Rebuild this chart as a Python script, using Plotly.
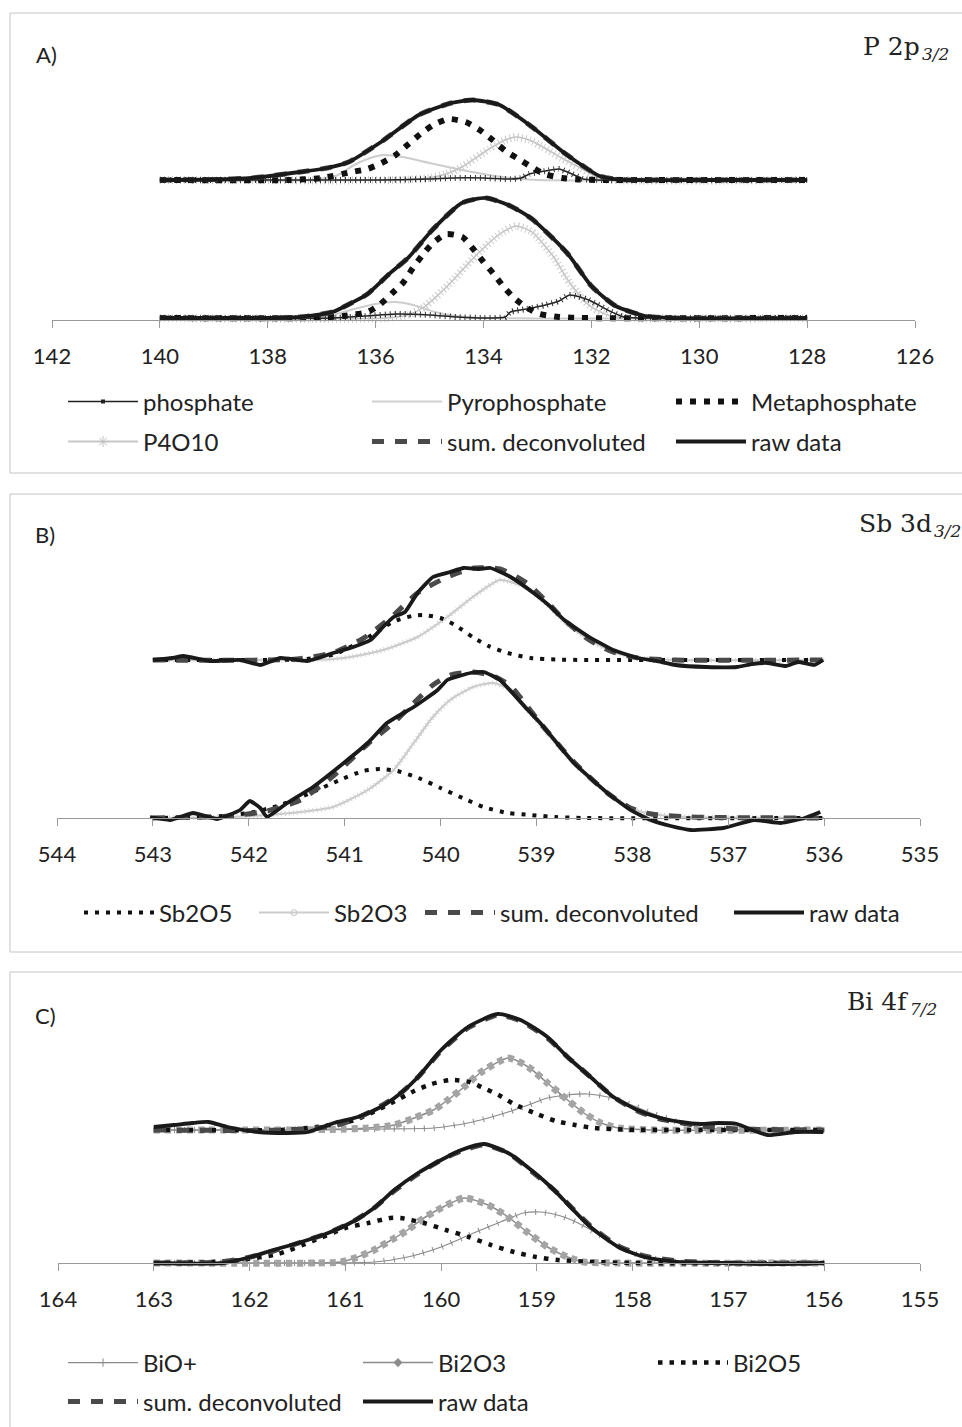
import plotly.graph_objects as go

W, H = 962, 1427

# ---------------- Panel A : P 2p3/2 (binding energy, intensity a.u.) -------------
a_ticks = [142, 140, 138, 136, 134, 132, 130, 128, 126]

a_raw_top_e = [140.0, 139.0, 138.3, 137.4, 136.9, 136.5, 135.9, 135.2, 134.6, 134.2, 133.7, 133.1, 132.5, 132.1, 131.85, 131.5, 130.0, 128.0]
a_raw_top_i = [140, 140.5, 142, 148, 152, 158, 178, 205, 217, 220, 215, 193, 167, 152, 144, 140.5, 140, 140]
a_raw_bot_e = [140.0, 138.0, 137.4, 136.8, 136.45, 136.15, 135.75, 135.4, 134.95, 134.4, 133.95, 133.5, 133.1, 132.45, 132.0, 131.55, 131.0, 130.5, 128.0]
a_raw_bot_i = [2, 2, 3, 8, 17, 26, 46, 62, 90, 117, 122, 114, 101, 67, 34, 14, 4, 2, 2]

a_phos_top_e = [140.0, 136.0, 135.0, 134.6, 134.0, 133.5, 133.3, 133.15, 132.85, 132.6, 132.4, 132.15, 131.9, 128.0]
a_phos_top_i = [140, 140, 141, 142, 142, 141, 142, 146, 149, 151, 147, 141, 140, 140]
a_phos_bot_e = [140.0, 136.8, 136.2, 135.6, 135.0, 134.5, 134.0, 133.6, 133.5, 133.2, 132.85, 132.6, 132.4, 132.05, 131.7, 131.4, 131.1, 128.0]
a_phos_bot_i = [2, 2, 4, 6, 5, 3, 2, 3, 8, 11, 15, 19, 25, 20, 10, 3, 2, 2]

a_pyro_top_e = [140.0, 137.2, 136.7, 136.4, 136.1, 135.85, 135.5, 135.0, 134.4, 133.9, 133.5, 133.0, 128.0]
a_pyro_top_i = [140, 140, 145, 155, 162, 165, 163, 157, 150, 145, 142, 140, 140]
a_pyro_bot_e = [140.0, 137.2, 136.8, 136.4, 136.0, 135.65, 135.3, 134.9, 134.5, 134.0, 128.0]
a_pyro_bot_i = [2, 2, 5, 11, 16, 18, 15, 8, 4, 2, 2]

a_meta_top_e = [140.0, 137.6, 137.0, 136.44, 136.15, 135.89, 135.63, 135.41, 135.17, 134.93, 134.65, 134.33, 134.07, 133.83, 133.59, 133.35, 133.11, 132.87, 132.54, 132.25, 131.8, 128.0]
a_meta_top_i = [140, 140, 142, 148, 151, 157, 165, 175, 186, 195, 201, 198, 190, 180, 169, 161, 153, 146, 142, 140.5, 140, 140]
a_meta_bot_e = [140.0, 137.2, 136.6, 136.15, 135.93, 135.69, 135.48, 135.31, 135.13, 134.94, 134.69, 134.39, 134.19, 134.0, 133.81, 133.61, 133.41, 133.19, 132.96, 132.6, 132.2, 128.0]
a_meta_bot_i = [2, 2, 4, 8, 15, 27, 38, 52, 65, 77, 86, 83, 71, 58, 46, 32, 21, 12, 6, 3, 2, 2]

a_p4o10_top_e = [140.0, 135.6, 135.0, 134.7, 134.4, 133.9, 133.6, 133.4, 133.15, 132.9, 132.55, 132.2, 131.9, 131.6, 128.0]
a_p4o10_top_i = [140, 140, 142, 146, 153, 171, 180, 183, 180, 173, 162, 152, 143, 140, 140]
a_p4o10_bot_e = [140.0, 135.8, 135.4, 135.1, 134.65, 134.15, 133.7, 133.4, 133.1, 132.7, 132.4, 132.05, 131.7, 131.3, 128.0]
a_p4o10_bot_i = [2, 2, 5, 13, 35, 64, 86, 94, 88, 63, 37, 15, 5, 2, 2]

# ---------------- Panel B : Sb 3d3/2 -------------
b_ticks = [544, 543, 542, 541, 540, 539, 538, 537, 536, 535]

b_raw_top_e = [543.0, 542.8, 542.68, 542.4, 542.09, 541.88, 541.67, 541.39, 541.12, 540.91, 540.73, 540.6, 540.49, 540.37, 540.24, 540.08, 539.9, 539.76, 539.6, 539.48, 539.27, 539.03, 538.85, 538.71, 538.45, 538.2, 537.94, 537.75, 537.55, 537.23, 536.91, 536.75, 536.59, 536.4, 536.27, 536.1, 536.01]
b_raw_top_i = [158, 160, 162, 157, 158, 153, 160, 157, 165, 171, 178, 191, 201, 206, 225, 241, 246, 250, 249, 250, 241, 225, 211, 198, 181, 168, 160, 157, 153, 151, 151, 154, 155, 152, 156, 153, 158]
b_raw_bot_e = [543.03, 542.82, 542.58, 542.33, 542.09, 541.99, 541.88, 541.81, 541.6, 541.33, 541.01, 540.76, 540.56, 540.28, 540.03, 539.93, 539.69, 539.55, 539.38, 539.09, 538.96, 538.61, 538.26, 538.02, 537.81, 537.6, 537.39, 537.05, 536.73, 536.45, 536.2, 536.04]
b_raw_bot_i = [1, -2, 5, -1, 8, 17, 10, 1, 15, 31, 55, 75, 95, 111, 128, 138, 145, 146, 138, 108, 95, 55, 25, 8, -2, -8, -12, -10, -2, -5, 0, 6]

b_sum_top_e = [543.0, 541.5, 541.1, 540.8, 540.5, 540.24, 539.93, 539.65, 539.38, 539.1, 538.85, 538.71, 538.45, 538.2, 537.94, 537.55, 536.0]
b_sum_top_i = [158, 159, 166, 180, 202, 225, 241, 250, 249, 235, 212, 198, 178, 166, 160, 158, 158]
b_sum_bot_e = [543.0, 542.2, 541.81, 541.46, 541.12, 540.76, 540.49, 540.28, 540.08, 539.9, 539.66, 539.45, 539.27, 539.09, 538.96, 538.61, 538.26, 538.02, 537.8, 537.4, 536.0]
b_sum_bot_i = [0, 2, 7, 18, 42, 74, 95, 115, 133, 143, 146, 142, 132, 111, 95, 56, 25, 10, 4, 1, 0]

b_sb2o5_top_e = [543.0, 541.8, 541.4, 541.1, 540.8, 540.5, 540.3, 540.18, 540.0, 539.85, 539.65, 539.5, 539.3, 539.06, 538.8, 538.5, 536.0]
b_sb2o5_top_i = [158, 158, 159, 164, 178, 196, 202, 203, 200, 193, 180, 172, 165, 160, 158.5, 158, 158]
b_sb2o5_bot_e = [543.0, 542.4, 542.0, 541.7, 541.38, 541.05, 540.81, 540.63, 540.45, 540.23, 540.0, 539.77, 539.55, 539.3, 539.06, 538.8, 538.5, 536.0]
b_sb2o5_bot_i = [0, 1, 5, 12, 24, 38, 47, 49, 47, 40, 30, 20, 11, 5, 3, 1, 0, 0]

b_sb2o3_top_e = [543.0, 541.5, 541.12, 540.94, 540.6, 540.24, 539.93, 539.65, 539.38, 539.1, 538.85, 538.71, 538.45, 538.2, 537.94, 537.55, 536.0]
b_sb2o3_top_i = [158, 158, 159, 161, 168, 181, 201, 222, 238, 230, 210, 196, 178, 166, 160, 158, 158]
b_sb2o3_bot_e = [543.0, 542.2, 541.81, 541.46, 541.12, 540.76, 540.49, 540.28, 540.08, 539.9, 539.66, 539.45, 539.27, 539.09, 538.96, 538.61, 538.26, 538.02, 537.8, 537.4, 536.0]
b_sb2o3_bot_i = [0, 1, 3, 6, 11, 28, 48, 75, 101, 118, 131, 135, 128, 108, 93, 55, 25, 10, 4, 1, 0]

# ---------------- Panel C : Bi 4f7/2 -------------
c_ticks = [164, 163, 162, 161, 160, 159, 158, 157, 156, 155]

c_raw_top_e = [163.0, 162.79, 162.6, 162.43, 162.23, 161.91, 161.6, 161.39, 161.12, 160.87, 160.63, 160.42, 160.24, 160.0, 159.72, 159.41, 159.17, 158.89, 158.68, 158.44, 158.2, 157.95, 157.71, 157.5, 157.29, 157.1, 156.91, 156.75, 156.59, 156.3, 156.01]
c_raw_top_i = [136, 138, 140, 141, 136, 131, 130, 131, 140, 146, 156, 170, 186, 213, 236, 249, 243, 226, 206, 186, 166, 153, 145, 141, 139, 140, 139, 133, 128, 131, 131]
c_raw_bot_e = [163.0, 162.27, 161.99, 161.75, 161.46, 161.18, 160.91, 160.7, 160.49, 160.24, 160.0, 159.79, 159.55, 159.3, 159.06, 158.82, 158.72, 158.44, 158.15, 157.88, 157.53, 157.0, 156.5, 156.0]
c_raw_bot_i = [0, 0, 6, 13, 21, 30, 42, 55, 73, 90, 103, 113, 119, 110, 93, 73, 63, 36, 16, 6, 1, 0, -1, 0]

c_sum_top_e = [163.0, 161.6, 161.12, 160.87, 160.63, 160.42, 160.24, 160.0, 159.72, 159.41, 159.17, 158.89, 158.68, 158.44, 158.2, 157.95, 157.71, 157.29, 156.9, 156.0]
c_sum_top_i = [133, 133, 137, 145, 157, 170, 186, 212, 235, 248, 242, 225, 206, 186, 166, 152, 144, 137, 134, 133]
c_sum_bot_e = [163.0, 162.3, 161.99, 161.75, 161.46, 161.18, 160.91, 160.7, 160.49, 160.24, 160.0, 159.79, 159.55, 159.3, 159.06, 158.82, 158.44, 158.15, 157.88, 157.53, 157.0, 156.0]
c_sum_bot_i = [0, 1, 6, 12, 21, 30, 42, 55, 72, 89, 103, 112, 118, 110, 92, 73, 37, 17, 7, 2, 0, 0]

c_bio_top_e = [163.0, 161.5, 160.6, 160.08, 159.72, 159.51, 159.3, 159.09, 158.89, 158.68, 158.47, 158.26, 158.09, 157.81, 157.49, 157.24, 156.9, 156.0]
c_bio_top_i = [133, 133, 134, 135, 140, 145, 151, 158, 165, 168, 169, 166, 161, 150, 140, 135, 133.5, 133]
c_bio_bot_e = [163.0, 161.3, 160.7, 160.35, 160.0, 159.66, 159.38, 159.14, 158.96, 158.75, 158.57, 158.38, 158.2, 158.02, 157.87, 157.65, 157.3, 156.0]
c_bio_bot_i = [0, 0, 1, 6, 16, 30, 41, 50, 51, 47, 40, 30, 20, 11, 6, 2, 0, 0]

c_bi2o3_top_e = [163.0, 161.5, 161.0, 160.76, 160.49, 160.28, 160.08, 159.93, 159.76, 159.58, 159.3, 159.09, 158.89, 158.68, 158.51, 158.33, 158.15, 157.8, 156.0]
c_bi2o3_top_i = [133, 133, 134, 135, 138, 145, 153, 163, 176, 191, 205, 196, 180, 163, 150, 140, 135, 133, 133]
c_bi2o3_bot_e = [163.0, 161.3, 161.05, 160.87, 160.7, 160.52, 160.35, 160.18, 160.0, 159.76, 159.51, 159.3, 159.09, 158.89, 158.68, 158.51, 158.2, 156.0]
c_bi2o3_bot_i = [0, 0, 1, 6, 13, 23, 33, 45, 55, 65, 58, 46, 30, 16, 6, 1, 0, 0]

c_bi2o5_top_e = [163.0, 161.7, 161.3, 160.9, 160.56, 160.28, 160.1, 159.9, 159.7, 159.58, 159.4, 159.24, 159.0, 158.8, 158.6, 158.4, 158.1, 157.5, 156.0]
c_bi2o5_top_i = [133, 133, 136, 143, 158, 172, 179, 183, 181, 176, 168, 159, 149, 142, 138, 135, 133.5, 133, 133]
c_bi2o5_bot_e = [163.0, 162.4, 162.1, 161.7, 161.34, 161.0, 160.76, 160.53, 160.42, 160.18, 159.95, 159.71, 159.48, 159.24, 159.01, 158.78, 158.4, 158.0, 156.0]
c_bi2o5_bot_i = [0, 1, 3, 9, 22, 35, 40, 45, 45, 40, 33, 26, 18, 11, 6, 3, 1, 0, 0]

# ---------------- layout geometry (pixels -> paper) -------------
def px_x(p):
    return p / W

def px_y(p):
    return 1 - p / H

FONT = "Lato"
TXT = "#222222"
panels = {
    "A": dict(ax="x", ay="y", xr=[142, 126], xd=[52, 915], yr=[-15, 260], yd=[335, 60], axis=320, ticks=a_ticks),
    "B": dict(ax="x2", ay="y2", xr=[544, 535], xd=[57, 920], yr=[-22, 278], yd=[840, 540], axis=818, ticks=b_ticks),
    "C": dict(ax="x3", ay="y3", xr=[164, 155], xd=[58, 920], yr=[-22, 253], yd=[1285, 1010], axis=1263, ticks=c_ticks),
}

fig = go.Figure()

def line(e, i, p, color, width, dash="solid", smooth=0.6):
    fig.add_trace(go.Scatter(x=e, y=i, mode="lines", xaxis=panels[p]["ax"], yaxis=panels[p]["ay"],
                             line=dict(color=color, width=width, dash=dash, shape="spline", smoothing=smooth),
                             showlegend=False, hoverinfo="skip"))

def leg(name, legend, color, width, dash="solid", marker=None, lw=None):
    kw = dict(mode="lines")
    if marker:
        kw = dict(mode="lines+markers", marker=marker)
    if lw:
        kw["legendwidth"] = lw
    fig.add_trace(go.Scatter(x=[None], y=[None], name=name, legend=legend,
                             line=dict(color=color, width=width, dash=dash), showlegend=True, **kw))

RAW = "#1a1a1a"
SUM = "#4a4a4a"
SUMDASH = "12px,11px"

# Panel A traces
for e, i in [(a_pyro_top_e, a_pyro_top_i), (a_pyro_bot_e, a_pyro_bot_i)]:
    line(e, i, "A", "#cdcdcd", 2)
for e, i in [(a_p4o10_top_e, a_p4o10_top_i), (a_p4o10_bot_e, a_p4o10_bot_i)]:
    line(e, i, "A", "#c2c2c2", 1.5)
    line(e, i, "A", "#cbcbcb", 8, "1px,3px")
for e, i in [(a_phos_top_e, a_phos_top_i), (a_phos_bot_e, a_phos_bot_i)]:
    line(e, i, "A", "#222222", 1.5)
    line(e, i, "A", "#333333", 6, "1px,4px")
for e, i in [(a_meta_top_e, a_meta_top_i), (a_meta_bot_e, a_meta_bot_i)]:
    line(e, i, "A", "#111111", 6, "6px,8px")
for e, i in [(a_raw_top_e, a_raw_top_i), (a_raw_bot_e, a_raw_bot_i)]:
    line(e, i, "A", SUM, 5, SUMDASH)
for e, i in [(a_raw_top_e, a_raw_top_i), (a_raw_bot_e, a_raw_bot_i)]:
    line(e, i, "A", RAW, 3.8)

# Panel B traces
for e, i in [(b_sb2o3_top_e, b_sb2o3_top_i), (b_sb2o3_bot_e, b_sb2o3_bot_i)]:
    line(e, i, "B", "#c8c8c8", 2)
    line(e, i, "B", "#d2d2d2", 5, "1px,3px")
for e, i in [(b_sb2o5_top_e, b_sb2o5_top_i), (b_sb2o5_bot_e, b_sb2o5_bot_i)]:
    line(e, i, "B", "#111111", 4, "4px,7px")
for e, i in [(b_sum_top_e, b_sum_top_i), (b_sum_bot_e, b_sum_bot_i)]:
    line(e, i, "B", SUM, 5, SUMDASH)
for e, i in [(b_raw_top_e, b_raw_top_i), (b_raw_bot_e, b_raw_bot_i)]:
    line(e, i, "B", RAW, 3.8, smooth=0.4)

# Panel C traces
for e, i in [(c_bio_top_e, c_bio_top_i), (c_bio_bot_e, c_bio_bot_i)]:
    line(e, i, "C", "#8a8a8a", 1.2)
    line(e, i, "C", "#8a8a8a", 6, "1px,9px")
for e, i in [(c_bi2o3_top_e, c_bi2o3_top_i), (c_bi2o3_bot_e, c_bi2o3_bot_i)]:
    line(e, i, "C", "#8c8c8c", 1.5)
    line(e, i, "C", "#a4a4a4", 7, "6px,5px")
for e, i in [(c_bi2o5_top_e, c_bi2o5_top_i), (c_bi2o5_bot_e, c_bi2o5_bot_i)]:
    line(e, i, "C", "#111111", 4.5, "4.5px,7px")
for e, i in [(c_sum_top_e, c_sum_top_i), (c_sum_bot_e, c_sum_bot_i)]:
    line(e, i, "C", SUM, 5, SUMDASH)
for e, i in [(c_raw_top_e, c_raw_top_i), (c_raw_bot_e, c_raw_bot_i)]:
    line(e, i, "C", RAW, 3.8)

# legend entries
leg("phosphate", "legend", "#222222", 1.5, marker=dict(symbol="square", size=4, color="#222222"))
leg("Pyrophosphate", "legend", "#d0d0d0", 2)
leg("Metaphosphate", "legend", "#111111", 6, "6px,8px")
leg("P4O10", "legend2", "#c8c8c8", 2, marker=dict(symbol="asterisk-open", size=9, color="#c0c0c0"))
leg("sum. deconvoluted", "legend2", SUM, 5, SUMDASH)
leg("raw data", "legend2", RAW, 4)

leg("Sb2O5", "legend3", "#111111", 4, "4px,7px", lw=90)
leg("Sb2O3", "legend3", "#cccccc", 2, marker=dict(symbol="circle-open", size=6, color="#c8c8c8"), lw=81)
leg("sum. deconvoluted", "legend3", SUM, 5, SUMDASH, lw=224)
leg("raw data", "legend3", RAW, 4, lw=110)

leg("BiO+", "legend4", "#8a8a8a", 1.2, marker=dict(symbol="cross-thin-open", size=6, color="#8a8a8a"))
leg("Bi2O3", "legend4", "#8c8c8c", 1.5, marker=dict(symbol="diamond", size=7, color="#8c8c8c"))
leg("Bi2O5", "legend4", "#111111", 4.5, "4.5px,7px")
leg("sum. deconvoluted", "legend5", SUM, 5, SUMDASH)
leg("raw data", "legend5", RAW, 4)

legfont = dict(family=FONT, size=24, color=TXT)
def legbox(x, y, ew):
    return dict(orientation="h", x=px_x(x), y=px_y(y), xanchor="left", yanchor="middle",
                font=legfont, itemwidth=70, entrywidth=ew, bgcolor="rgba(0,0,0,0)",
                itemclick=False, itemdoubleclick=False, traceorder="normal")

layout = dict(width=W, height=H, margin=dict(l=0, r=0, t=0, b=0, autoexpand=False),
              paper_bgcolor="white", plot_bgcolor="white",
              legend=legbox(63, 402, 219), legend2=legbox(63, 442, 219),
              legend3=legbox(79, 913, 0),
              legend4=legbox(63, 1363, 210), legend5=legbox(63, 1402, 210))

for key, p in panels.items():
    n = "" if p["ax"] == "x" else p["ax"][1:]
    layout["xaxis" + n] = dict(domain=[px_x(p["xd"][0]), px_x(p["xd"][1])], range=p["xr"],
                               anchor="free", position=px_y(p["axis"]),
                               tickmode="array", tickvals=p["ticks"], ticktext=[str(t) for t in p["ticks"]],
                               ticks="outside", ticklen=7, tickcolor="#9a9a9a", tickwidth=1,
                               showline=True, linecolor="#9a9a9a", linewidth=1,
                               showgrid=False, zeroline=False, ticklabelstandoff=10,
                               tickfont=dict(family=FONT, size=22, color=TXT))
    layout["yaxis" + n] = dict(domain=[px_y(p["yd"][0]), px_y(p["yd"][1])], range=p["yr"],
                               anchor=p["ax"], visible=False, showgrid=False, zeroline=False)

serif = dict(family="DejaVu Serif", size=25, color=TXT)
subf = dict(family="DejaVu Serif", size=17, color=TXT, style="italic")
lab = dict(family=FONT, size=22, color=TXT)
ann = [
    dict(text="A)", x=px_x(34), y=px_y(55), xanchor="left", yanchor="middle", font=lab),
    dict(text="B)", x=px_x(33), y=px_y(535), xanchor="left", yanchor="middle", font=lab),
    dict(text="C)", x=px_x(33), y=px_y(1015), xanchor="left", yanchor="middle", font=lab),
    # element / orbital labels: main part and italic subscript
    dict(text="P 2p", x=px_x(922), y=px_y(46), xanchor="right", yanchor="middle", font=serif),
    dict(text="3/2", x=px_x(951), y=px_y(54), xanchor="right", yanchor="middle", font=subf),
    dict(text="Sb 3d", x=px_x(934), y=px_y(523), xanchor="right", yanchor="middle", font=serif),
    dict(text="3/2", x=px_x(963), y=px_y(531), xanchor="right", yanchor="middle", font=subf),
    dict(text="Bi 4f", x=px_x(910), y=px_y(1001), xanchor="right", yanchor="middle", font=serif),
    dict(text="7/2", x=px_x(939), y=px_y(1009), xanchor="right", yanchor="middle", font=subf),
]
for a in ann:
    a.update(xref="paper", yref="paper", showarrow=False)
layout["annotations"] = ann

BORDER = "#c4c4c4"
def seg(x0, y0, x1, y1):
    return dict(type="line", xref="paper", yref="paper", x0=px_x(x0), y0=px_y(y0), x1=px_x(x1), y1=px_y(y1),
                line=dict(color=BORDER, width=1))
layout["shapes"] = [
    seg(10, 13, 962, 13), seg(10, 13, 10, 473), seg(10, 473, 962, 473),
    seg(10, 494, 962, 494), seg(10, 494, 10, 952), seg(10, 952, 962, 952),
    seg(10, 972, 962, 972), seg(10, 972, 10, 1427),
]

fig.update_layout(**layout)
fig.write_html("out.html")
